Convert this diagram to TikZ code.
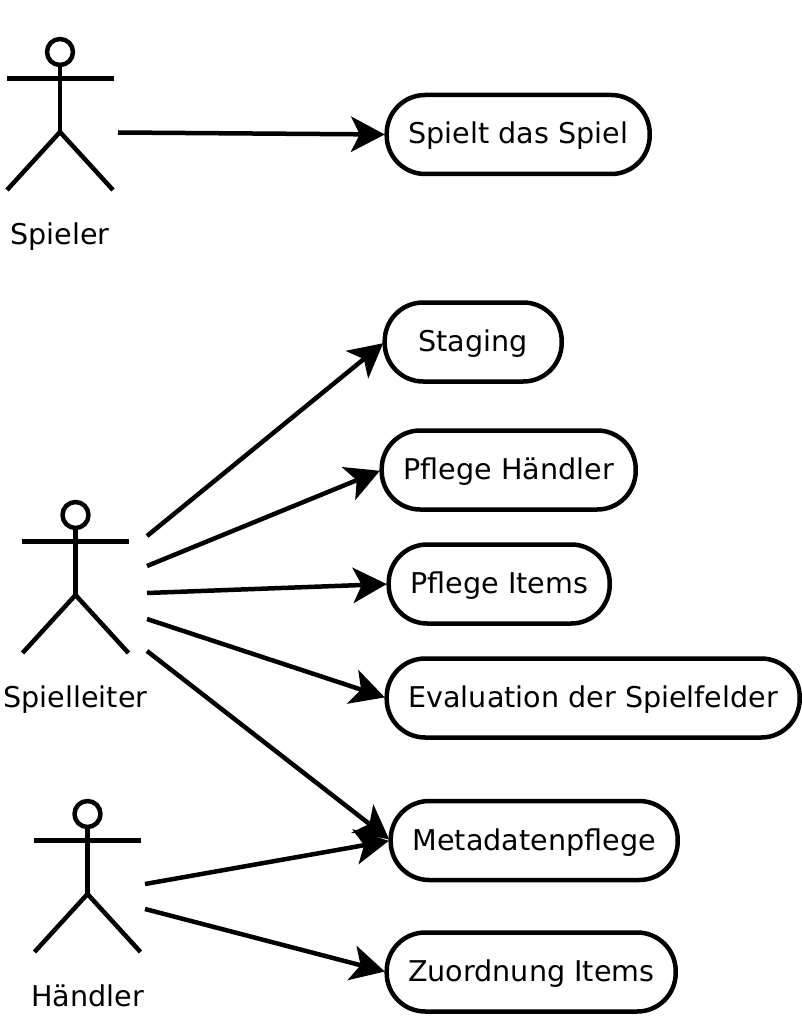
\documentclass[tikz,border=0pt]{standalone}
\usepackage{fontspec}
\setmainfont{DejaVu Sans}
\usetikzlibrary{arrows.meta}
\tikzset{
  usecase/.style={draw=black,line width=4.5pt,rounded corners=38.5pt,inner sep=0pt,outer sep=0pt,font=\fontsize{28.6pt}{32pt}\selectfont,fill=white,text height=26pt,text depth=7pt,minimum height=79pt},
  lbl/.style={inner sep=0pt,outer sep=0pt,font=\fontsize{28.6pt}{32pt}\selectfont,text height=26pt,text depth=7pt},
  stick/.style={draw=black,line width=4.5pt,line cap=butt,line join=round},
  conn/.style={draw=black,line width=4.5pt,shorten >=2pt,-{Stealth[length=34pt,width=36pt,inset=9pt,line width=0pt]}}
}
\newcommand{\actor}[4]{% name, cx, y head centre, label y unused
  \draw[stick] (#2,#3) circle[radius=13];
  \draw[stick] (#2,#3+13) -- (#2,#3+80);
  \draw[stick] (#2-53.5,#3+26.5) -- (#2+53.5,#3+26.5);
  \draw[stick] (#2-53,#3+138) -- (#2,#3+80) -- (#2+53,#3+138);
}
\begin{document}
\begin{tikzpicture}[x=1pt,y=-1pt]
\useasboundingbox (0,0) rectangle (802,1024);
\actor{a}{60}{52}{}
\actor{b}{75.5}{515}{}
\actor{c}{87.5}{814}{}
\node[lbl] (lspieler) at (60,234.5) {Spieler};
\node[lbl] (lleiter) at (75.5,697.5) {Spielleiter};
\node[lbl] (lhaendler) at (87.5,996.5) {Händler};
\node[usecase,minimum width=263pt] (u1) at (518.2,134.5) {Spielt das Spiel};
\node[usecase,minimum width=177pt] (u2) at (473.2,342) {Staging};
\node[usecase,minimum width=254pt] (u3) at (508.7,470) {Pflege Händler};
\node[usecase,minimum width=221pt] (u4) at (499.2,584) {Pflege Items};
\node[usecase,minimum width=413pt] (u5) at (593.2,698) {Evaluation der Spielfelder};
\node[usecase,minimum width=287pt] (u6) at (534.2,840.5) {Metadatenpflege};
\node[usecase,minimum width=289pt] (u7) at (531.2,972) {Zuordnung Items};
\coordinate (s1) at (118,132.5);
\coordinate (s2) at (147,536);
\coordinate (s3) at (147,566);
\coordinate (s4) at (147,593);
\coordinate (s5) at (147,619);
\coordinate (s6) at (147,651);
\coordinate (s7) at (145,884);
\coordinate (s8) at (145,909);
\draw[conn] (s1) -- (u1.west);
\draw[conn] (s2) -- (u2.west);
\draw[conn] (s3) -- (u3.west);
\draw[conn] (s4) -- (u4.west);
\draw[conn] (s5) -- (u5.west);
\draw[conn] (s6) -- (u6.west);
\draw[conn] (s7) -- (u6.west);
\draw[conn] (s8) -- (u7.west);
\end{tikzpicture}
\end{document}
